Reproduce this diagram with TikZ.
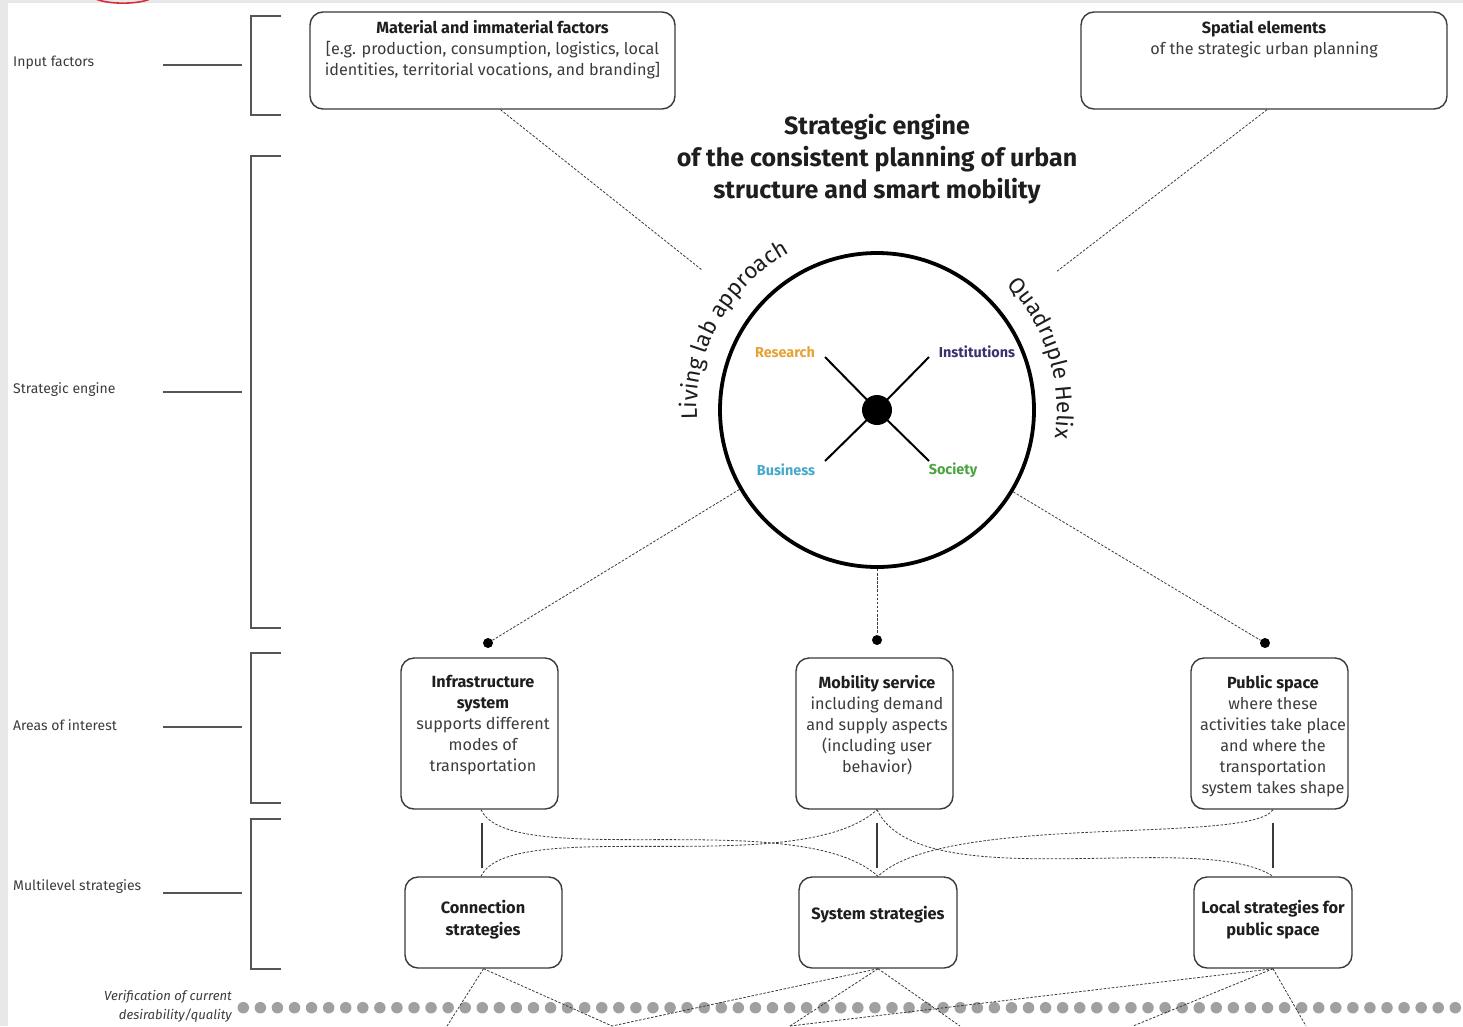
\documentclass[tikz,border=0pt]{standalone}
\usepackage{fontspec}
\setmainfont{Fira Sans}
\usetikzlibrary{calc,decorations.text}
\definecolor{bggray}{HTML}{E8E8E8}
\definecolor{boxc}{HTML}{3A3A3A}
\definecolor{textc}{HTML}{3C3C3C}
\definecolor{boldc}{HTML}{1E1E1E}
\definecolor{brc}{HTML}{555555}
\definecolor{dotc}{HTML}{A0A0A0}
\definecolor{resc}{HTML}{E5A235}
\definecolor{insc}{HTML}{3B3070}
\definecolor{busc}{HTML}{44AACB}
\definecolor{socc}{HTML}{4BA53F}
\definecolor{redc}{HTML}{DC2A36}
\begin{document}
\begin{tikzpicture}[x=1pt,y=1pt,
  box/.style={draw=boxc, line width=1.4pt, rounded corners=13pt, inner sep=0pt},
  txt/.style={align=center, inner sep=0pt, text=textc, font=\fontsize{16.2}{21}\selectfont},
  strat/.style={align=center, inner sep=0pt, text=boldc, font=\bfseries\fontsize{16.4}{22}\selectfont},
  side/.style={anchor=west, inner sep=0pt, text=textc, font=\fontsize{14}{16}\selectfont},
  lab/.style={inner sep=0pt, font=\bfseries\fontsize{14.4}{16}\selectfont},
  brack/.style={draw=brc, line width=1.3pt},
  dashc/.style={draw=boxc, line width=0.8pt, dash pattern=on 2.5pt off 1.6pt},
  solidc/.style={draw=boxc, line width=2.4pt},
  spoke/.style={draw=black, line width=2pt},
  endot/.style={circle, fill=black, minimum size=10pt, inner sep=0pt},
  vdot/.style={circle, fill=dotc, minimum size=11.5pt, inner sep=0pt}]
\useasboundingbox (0,0) rectangle (1463,-1026);
\fill[bggray] (0,0) rectangle (1463,-1026);
\fill[white] (8,-3) rectangle (1463,-1030);
\draw[redc, line width=1.6pt] (96,1) .. controls (108,-4.5) and (138,-4.5) .. (150,1);

% left labels
\node[side] (lin) at (13,-63) {Input factors};
\node[side] (lse) at (13,-390) {Strategic engine};
\node[side] (lar) at (13,-725) {Areas of interest};
\node[side] (lml) at (13,-887) {Multilevel strategies};
\draw[brack] (163,-65) -- (242,-65);
\draw[brack] (163,-392) -- (242,-392);
\draw[brack] (163,-727) -- (242,-727);
\draw[brack] (163,-893) -- (242,-893);
\draw[brack] (281,-16) -- (251,-16) -- (251,-115) -- (281,-115);
\draw[brack] (281,-156) -- (251,-156) -- (251,-628) -- (281,-628);
\draw[brack] (281,-653) -- (251,-653) -- (251,-803) -- (281,-803);
\draw[brack] (281,-819) -- (251,-819) -- (251,-969) -- (281,-969);

% top boxes
\node[box, minimum width=365pt, minimum height=97pt] (mat) at (492.5,-60.5) {};
\node[txt] (matt) at (492.5,-50) {\textbf{\textcolor{boldc}{Material and immaterial factors}}\\
  {[}e.g. production, consumption, logistics, local\\ identities, territorial vocations, and branding{]}};
\node[box, minimum width=366pt, minimum height=97pt] (spa) at (1264,-60.5) {};
\node[txt] (spat) at (1264,-39.5) {\textbf{\textcolor{boldc}{Spatial elements}}\\ of the strategic urban planning};

% title
\node[align=center, inner sep=0pt, text=boldc, font=\bfseries\fontsize{25}{32}\selectfont] (title) at (877,-159)
  {Strategic engine\\ of the consistent planning of urban\\ structure and smart mobility};

% circle
\node[circle, draw=black, line width=3.8pt, minimum size=314pt, inner sep=0pt] (c) at (877,-410) {};
\node[circle, fill=black, minimum size=30pt, inner sep=0pt] (hub) at (877,-410) {};
\draw[spoke] (hub.center) -- ($(hub.center)+(-52,53)$);
\draw[spoke] (hub.center) -- ($(hub.center)+(52,53)$);
\draw[spoke] (hub.center) -- ($(hub.center)+(-52,-51)$);
\draw[spoke] (hub.center) -- ($(hub.center)+(52,-51)$);
\node[lab, text=resc] (res) at (785,-352) {Research};
\node[lab, text=insc] (ins) at (977,-352) {Institutions};
\node[lab, text=busc] (bus) at (786,-470) {Business};
\node[lab, text=socc] (soc) at (953,-470) {Society};

\path[decorate, decoration={text along path, text align=center,
   text={|\fontsize{22.5}{22}\selectfont\color{boldc}|Living lab approach}}]
   (877,-410) ++(190:180) arc[start angle=190, end angle=112, radius=180];
\path[decorate, decoration={text along path, text align=center,
   text={|\fontsize{22.5}{22}\selectfont\color{boldc}|Quadruple Helix}}]
   (877,-410) ++(60:180) arc[start angle=60, end angle=-25, radius=180];

% dashed input connectors
\coordinate (ml) at (702,-270);
\coordinate (sr) at (1056,-272);
\draw[dashc] ([xshift=8pt]mat.south) -- (ml);
\draw[dashc] ([xshift=3pt]spa.south) -- (sr);

% end dots
\node[endot] (d1) at (488,-643) {};
\node[endot] (d2) at (877,-640) {};
\node[endot] (d3) at (1265,-643) {};
\draw[dashc] (c.210) -- (d1);
\draw[dashc] (c.270) -- (d2);
\draw[dashc] (c.-31) -- (d3);

% areas of interest
\node[box, minimum width=157pt, minimum height=151pt] (inf) at (479.5,-733.5) {};
\node[box, minimum width=157pt, minimum height=151pt] (mob) at (874.5,-733.5) {};
\node[box, minimum width=157pt, minimum height=151pt] (pub) at (1269.5,-733.5) {};
\node[txt] (inft) at (483,-725) {\textbf{\textcolor{boldc}{Infrastructure}}\\ \textbf{\textcolor{boldc}{system}}\\ supports different\\ modes of\\ transportation};
\node[txt] (mobt) at (877,-725) {\textbf{\textcolor{boldc}{Mobility service}}\\ including demand\\ and supply aspects\\ (including user\\ behavior)};
\node[txt] (pubt) at (1273,-736) {\textbf{\textcolor{boldc}{Public space}}\\ where these\\ activities take place\\ and where the\\ transportation\\ system takes shape};

% strategies
\node[box, minimum width=157pt, minimum height=91pt] (con) at (483.5,-922.5) {};
\node[box, minimum width=158pt, minimum height=91pt] (sys) at (878,-922.5) {};
\node[box, minimum width=158pt, minimum height=91pt] (loc) at (1273,-922.5) {};
\node[strat] (cont) at (483,-919.5) {Connection\\ strategies};
\node[strat] (syst) at (878,-914.5) {System strategies};
\node[strat] (loct) at (1273,-919.5) {Local strategies for\\ public space};

% solid links
\draw[solidc] ([xshift=-1.5pt,yshift=8pt]con.north) -- ([xshift=2.5pt,yshift=-13pt]inf.south);
\draw[solidc] ([xshift=-1pt,yshift=8pt]sys.north) -- ([xshift=2.5pt,yshift=-13pt]mob.south);
\draw[solidc] ([yshift=8pt]loc.north) -- ([xshift=3.5pt,yshift=-13pt]pub.south);

% crossing curves
\draw[dashc] ([xshift=1.5pt]inf.south) .. controls (510,-872) and (800,-805) .. (sys.north);
\draw[dashc] ([xshift=-2.5pt]con.north) .. controls (510,-814) and (800,-881) .. ([xshift=2.5pt]mob.south);
\draw[dashc] ([xshift=3.5pt]pub.south) .. controls (1250,-845) and (945,-812) .. (sys.north);
\draw[dashc] ([xshift=2.5pt]mob.south) .. controls (920,-900) and (1200,-828) .. (loc.north);

% verification line
\node[align=right, anchor=east, inner sep=0pt, text=textc, font=\itshape\fontsize{13.1}{19}\selectfont] (ver) at (232,-1006.5)
  {Verification of current\\ desirability/quality};
\foreach \i in {0,...,71} {
  \node[vdot] (v\i) at (243.3+17.07*\i,-1007.7) {};
}

% lines to the next level (cut off)
\coordinate (b1) at (447,-1026);
\coordinate (b2) at (612,-1026);
\coordinate (b3) at (790,-1026);
\coordinate (b4) at (960,-1026);
\coordinate (b5) at (1133,-1026);
\coordinate (b6) at (1306,-1026);
\draw[dashc] (con.south) -- (b1);
\draw[dashc] (con.south) -- (b2);
\draw[dashc] (sys.south) -- (b2);
\draw[dashc] (sys.south) -- (b3);
\draw[dashc] (sys.south) -- (b4);
\draw[dashc] (loc.south) -- (b3);
\draw[dashc] (loc.south) -- (b5);
\draw[dashc] (loc.south) -- (b6);
\end{tikzpicture}
\end{document}
